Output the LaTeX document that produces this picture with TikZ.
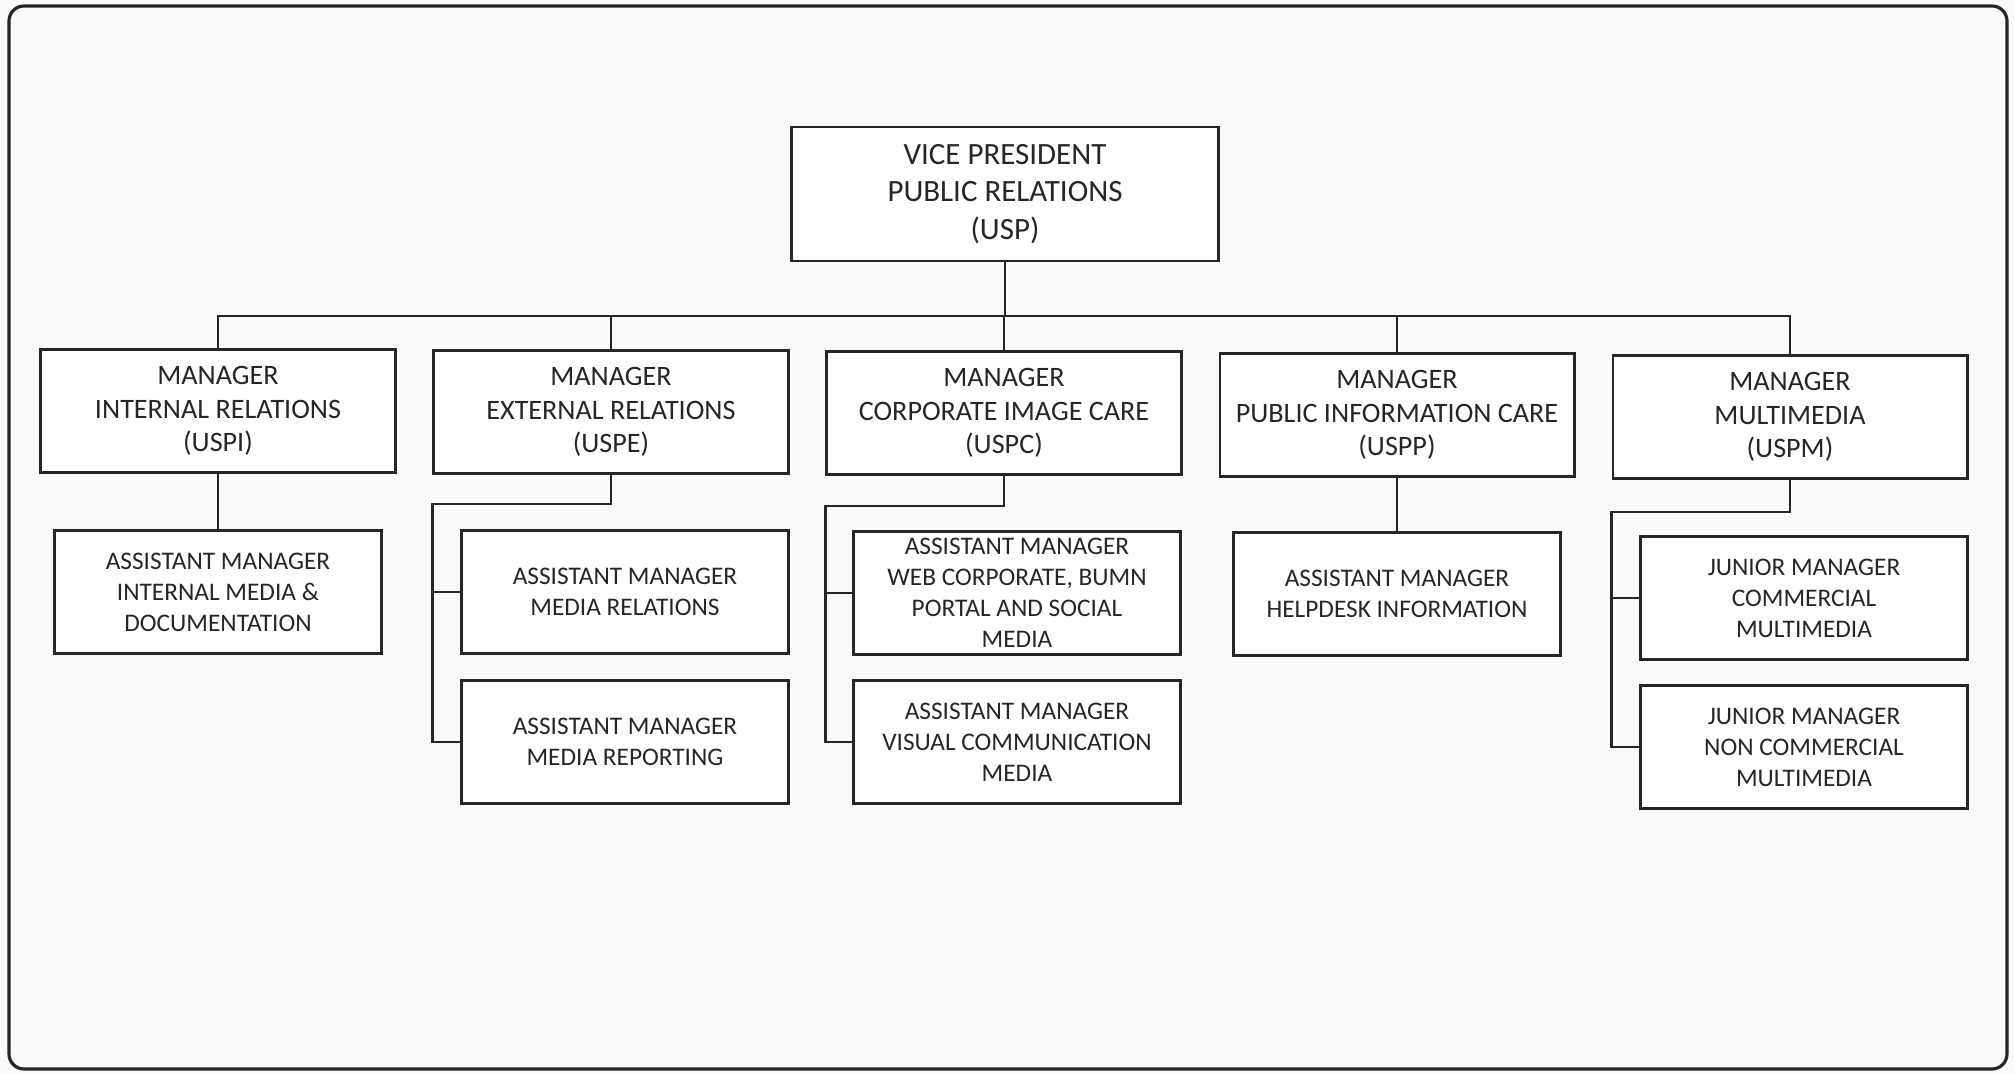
\documentclass[tikz,border=0pt]{standalone}
\usepackage{fontspec}
\setmainfont{Carlito}
\usetikzlibrary{positioning, calc}

\tikzset{
  vpbox/.style={draw, line width=0.8pt, fill=white, align=center, minimum width=4.26cm, minimum height=1.34cm, font=\fontsize{8.8}{10.6}\selectfont},
  mgrbox/.style={draw, line width=0.8pt, fill=white, align=center, minimum width=3.54cm, minimum height=1.23cm, font=\fontsize{8}{9.6}\selectfont},
  subbox/.style={draw, line width=0.8pt, fill=white, align=center, minimum width=3.27cm, minimum height=1.23cm, inner ysep=1pt, font=\fontsize{7.2}{8.8}\selectfont},
  link/.style={line width=0.7pt}
}

\begin{document}
\begin{tikzpicture}[x=0.01cm, y=-0.01cm, color=black!85]
    \fill[black!2] (0,0) rectangle (2014,1074);
    \useasboundingbox (0,0) rectangle (2014,1074);
    \draw[line width=0.9pt, rounded corners=0.15cm] (9,6) rectangle (2007,1069);

    % Vice president
    \node[vpbox] (vp) at (1005,194) {VICE PRESIDENT\\PUBLIC RELATIONS\\(USP)};

    % Managers
    \node[mgrbox] (m1) at (218,411) {MANAGER\\INTERNAL RELATIONS\\(USPI)};
    \node[mgrbox] (m2) at (611,412) {MANAGER\\EXTERNAL RELATIONS\\(USPE)};
    \node[mgrbox] (m3) at (1004,413) {MANAGER\\CORPORATE IMAGE CARE\\(USPC)};
    \node[mgrbox] (m4) at (1397,415) {MANAGER\\PUBLIC INFORMATION CARE\\(USPP)};
    \node[mgrbox] (m5) at (1790,417) {MANAGER\\MULTIMEDIA\\(USPM)};

    % Assistant and junior managers
    \node[subbox] (a1) at (218,592) {ASSISTANT MANAGER\\INTERNAL MEDIA \&\\DOCUMENTATION};
    \node[subbox] (b1) at (625,592) {ASSISTANT MANAGER\\MEDIA RELATIONS};
    \node[subbox] (b2) at (625,742) {ASSISTANT MANAGER\\MEDIA REPORTING};
    \node[subbox] (c1) at (1017,593) {ASSISTANT MANAGER\\WEB CORPORATE, BUMN\\PORTAL AND SOCIAL\\MEDIA};
    \node[subbox] (c2) at (1017,742) {ASSISTANT MANAGER\\VISUAL COMMUNICATION\\MEDIA};
    \node[subbox] (d1) at (1397,594) {ASSISTANT MANAGER\\HELPDESK INFORMATION};
    \node[subbox] (e1) at (1804,598) {JUNIOR MANAGER\\COMMERCIAL\\MULTIMEDIA};
    \node[subbox] (e2) at (1804,747) {JUNIOR MANAGER\\NON COMMERCIAL\\MULTIMEDIA};

    % Top bar
    \coordinate (bar) at (1005,316);
    \draw[link] (vp.south) -- (bar);
    \draw[link] (m1.north) -- (m1.north |- bar) -- (m5.north |- bar) -- (m5.north);
    \foreach \m in {m2,m3,m4}
        \draw[link] (\m.north) -- (\m.north |- bar);

    % Straight links
    \draw[link] (m1.south) -- (a1.north);
    \draw[link] (m4.south) -- (d1.north);

    % Elbow links
    \draw[link] (m2.south) -- ++(0,29) -| (m2.west |- b2.west) -- (b2.west);
    \draw[link] (b1.west) -- (b1.west -| m2.west);
    \draw[link] (m3.south) -- ++(0,30) -| (m3.west |- c2.west) -- (c2.west);
    \draw[link] (c1.west) -- (c1.west -| m3.west);
    \draw[link] (m5.south) -- ++(0,32) -| (m5.west |- e2.west) -- (e2.west);
    \draw[link] (e1.west) -- (e1.west -| m5.west);
\end{tikzpicture}
\end{document}
